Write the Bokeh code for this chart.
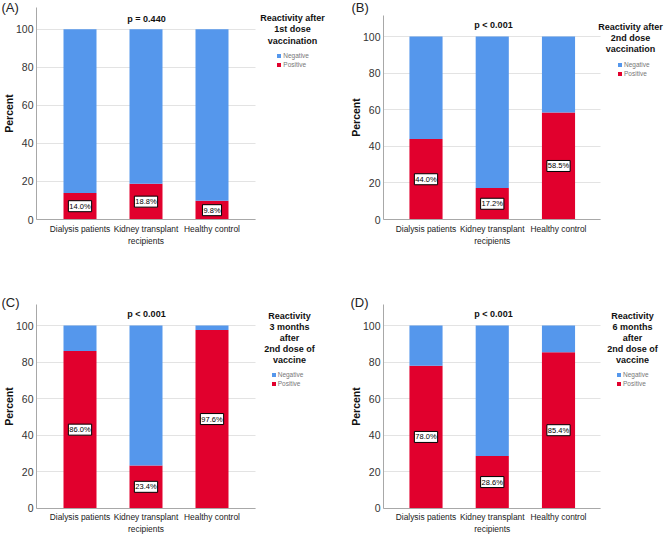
import math
from bokeh.plotting import figure
from bokeh.models import (Range1d, Label, Legend, LegendItem, ColumnDataSource,
                          LinearAxis, FixedTicker, Grid)
from bokeh.layouts import column, row
from bokeh.embed import file_html
from bokeh.resources import INLINE

# ---------------- data ----------------
categories = ["Dialysis patients", "Kidney transplant\nrecipients", "Healthy control"]

positive_A = [14.0, 18.8, 9.8]
negative_A = [86.0, 81.2, 90.2]
positive_B = [44.0, 17.2, 58.5]
negative_B = [56.0, 82.8, 41.5]
positive_C = [86.0, 23.4, 97.6]
negative_C = [14.0, 76.6, 2.4]
positive_D = [78.0, 28.6, 85.4]
negative_D = [22.0, 71.4, 14.6]

p_values = ["p = 0.440", "p < 0.001", "p < 0.001", "p < 0.001"]
legend_titles = [
    ["Reactivity after", "1st dose", "vaccination"],
    ["Reactivity after", "2nd dose", "vaccination"],
    ["Reactivity", "3 months", "after", "2nd dose of", "vaccine"],
    ["Reactivity", "6 months", "after", "2nd dose of", "vaccine"],
]
panel_letters = ["(A)", "(B)", "(C)", "(D)"]
y_ticks = [0, 20, 40, 60, 80, 100]
y_max = 111.5
series_labels = ["Negative", "Positive"]

# ---------------- style ----------------
BLUE = "#5597ec"
RED = "#e1002d"
FONT = "Liberation Sans"
GRID = "#e3e3e3"
AXIS = "#a8a8a8"

# layout in picture pixels: figure box, plot area, annotation anchors
GEOM = [
    dict(fig=(0, 0, 330, 270), axis_x=36, right=255, y0=219, ytop=7,
         first=79.5, spacing=66, letter=(1, 7), pct=(8.5, 113), pval=(146, 18),
         title=(292, 17, 11.5), leg=(276.3, 52.7)),
    dict(fig=(330, 0, 337, 270), axis_x=383, right=600, y0=219, ytop=15,
         first=425.5, spacing=66.25, letter=(351, 7), pct=(355, 117), pval=(493, 24),
         title=(630, 26, 11), leg=(617, 62.3)),
    dict(fig=(0, 270, 330, 264), axis_x=36, right=255, y0=507.7, ytop=304,
         first=79.5, spacing=66, letter=(1, 302), pct=(8.5, 406), pval=(146, 313),
         title=(289, 315, 11), leg=(270.7, 372)),
    dict(fig=(330, 270, 337, 264), axis_x=383, right=600, y0=507.7, ytop=304,
         first=425.5, spacing=66.25, letter=(350, 302), pct=(355, 406), pval=(493, 313),
         title=(632, 315, 11), leg=(616, 372)),
]


def make_panel(i, pos, neg):
    g = GEOM[i]
    fx, fy, fw, fh = g["fig"]
    fbot = fy + fh

    # data <-> pixel mapping (frame == whole figure)
    upx = g["spacing"]
    c0 = g["first"]
    xs = (fx - c0) / upx
    xe = xs + fw / upx
    ppu = (g["y0"] - g["ytop"]) / y_max
    ys = -(fbot - g["y0"]) / ppu
    ye = y_max + (g["ytop"] - fy) / ppu
    ax_left = (g["axis_x"] - c0) / upx
    ax_right = (g["right"] - c0) / upx

    def sx(px):
        return px - fx

    def sy(py):
        return fbot - py

    p = figure(width=fw, height=fh, x_range=Range1d(xs, xe), y_range=Range1d(ys, ye),
               x_axis_location=None, y_axis_location=None,
               output_backend="svg", toolbar_location=None,
               min_border_left=0, min_border_right=0, min_border_top=0, min_border_bottom=0)
    p.outline_line_color = None
    p.background_fill_color = "white"
    p.border_fill_color = "white"
    for gr in p.grid:
        gr.visible = False

    # horizontal grid lines limited to the plotting area
    if "cross_bounds" in Grid.properties():
        p.add_layout(Grid(dimension=1, ticker=FixedTicker(ticks=y_ticks),
                          cross_bounds=(ax_left, ax_right), grid_line_color=GRID))
    else:
        p.segment(x0=[ax_left] * len(y_ticks), x1=[ax_right] * len(y_ticks),
                  y0=y_ticks, y1=y_ticks, line_color=GRID, line_width=1)

    # y axis
    yaxis = LinearAxis(fixed_location=ax_left, bounds=(0, y_max),
                       ticker=FixedTicker(ticks=y_ticks))
    yaxis.major_tick_line_color = None
    yaxis.minor_tick_line_color = None
    yaxis.major_tick_out = 0
    yaxis.major_tick_in = 0
    yaxis.minor_tick_out = 0
    yaxis.axis_line_color = AXIS
    yaxis.major_label_text_font = FONT
    yaxis.major_label_text_font_size = "10.5px"
    yaxis.major_label_text_color = "#333333"
    yaxis.major_label_standoff = 3
    p.add_layout(yaxis, "left")

    # category axis
    idx = list(range(len(categories)))
    xaxis = LinearAxis(fixed_location=0, bounds=(ax_left, ax_right),
                       ticker=FixedTicker(ticks=idx),
                       major_label_overrides={k: c for k, c in zip(idx, categories)})
    xaxis.major_tick_line_color = None
    xaxis.minor_tick_line_color = None
    xaxis.major_tick_out = 0
    xaxis.major_tick_in = 0
    xaxis.minor_tick_out = 0
    xaxis.axis_line_color = AXIS
    xaxis.major_label_text_font = FONT
    xaxis.major_label_text_font_size = "8.4px"
    xaxis.major_label_text_color = "#222222"
    xaxis.major_label_text_line_height = 1.2
    xaxis.major_label_standoff = 4
    p.add_layout(xaxis, "below")

    # stacked bars
    src = ColumnDataSource(dict(x=idx, pos=pos, neg=neg))
    rs = p.vbar_stack(["pos", "neg"], x="x", width=0.5, source=src,
                      fill_color=[RED, BLUE], line_color=None)

    # value labels centred in the positive segment
    for k, v in zip(idx, pos):
        p.add_layout(Label(
            x=k, y=v / 2, text=f"{v:.1f}%",
            text_font=FONT, text_font_size="7.5px", text_color="black",
            text_align="center", text_baseline="middle",
            background_fill_color="white", border_line_color="black",
            border_line_width=1, padding=1,
        ))

    # p-value
    p.add_layout(Label(
        x=sx(g["pval"][0]), y=sy(g["pval"][1]), x_units="screen", y_units="screen",
        text=p_values[i], text_font=FONT, text_font_style="bold",
        text_font_size="9px", text_color="#111111", text_align="center",
        text_baseline="middle",
    ))

    # panel letter
    p.add_layout(Label(
        x=sx(g["letter"][0]), y=sy(g["letter"][1]), x_units="screen", y_units="screen",
        text=panel_letters[i], text_font=FONT, text_font_size="13px",
        text_color="#222222", text_align="left", text_baseline="middle",
    ))

    # y axis title
    p.add_layout(Label(
        x=sx(g["pct"][0]), y=sy(g["pct"][1]), x_units="screen", y_units="screen",
        text="Percent", angle=math.pi / 2, text_font=FONT, text_font_style="bold",
        text_font_size="10.5px", text_color="#111111", text_align="center",
        text_baseline="middle",
    ))

    # legend title, one label per line
    tcx, ty0, tpitch = g["title"]
    for n, line in enumerate(legend_titles[i]):
        p.add_layout(Label(
            x=sx(tcx), y=sy(ty0 + n * tpitch), x_units="screen", y_units="screen",
            text=line, text_font=FONT, text_font_style="bold",
            text_font_size="9px", text_color="#111111", text_align="center",
            text_baseline="middle",
        ))

    # legend
    leg_h = 16
    lx, ly = g["leg"]
    legend = Legend(
        items=[LegendItem(label=series_labels[0], renderers=[rs[1]]),
               LegendItem(label=series_labels[1], renderers=[rs[0]])],
        location=(sx(lx), sy(ly - 1) - leg_h),
        glyph_width=5, glyph_height=5, label_height=7, label_standoff=2,
        spacing=2, padding=0, margin=0,
        border_line_alpha=0, background_fill_alpha=0,
        label_text_font=FONT, label_text_font_size="6.5px", label_text_color="#777777",
    )
    p.add_layout(legend, "center")
    return p


pA = make_panel(0, positive_A, negative_A)
pB = make_panel(1, positive_B, negative_B)
pC = make_panel(2, positive_C, negative_C)
pD = make_panel(3, positive_D, negative_D)

layout = column(row(pA, pB), row(pC, pD))

with open("out.html", "w") as f:
    f.write(file_html(layout, INLINE))
